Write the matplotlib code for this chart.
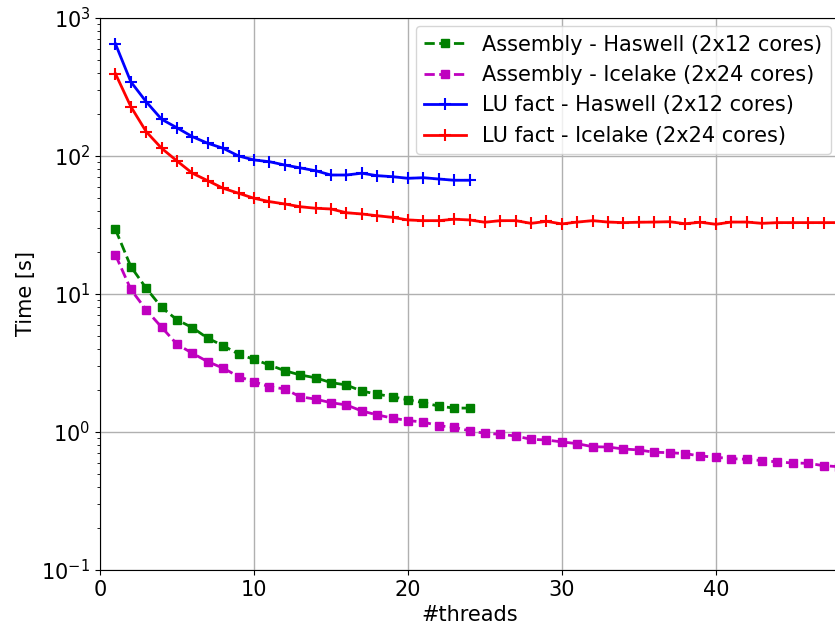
import matplotlib
matplotlib.use("Agg")
import matplotlib.pyplot as plt
import numpy as np

# thread counts for the two machines
threads_haswell = np.arange(1, 25)
threads_icelake = np.arange(1, 49)

# assembly time [s]
asm_haswell = [29.4, 15.8, 11.0, 8.0, 6.5, 5.7, 4.78, 4.22, 3.67, 3.36,
               3.06, 2.78, 2.59, 2.47, 2.28, 2.19, 1.98, 1.88, 1.80, 1.71,
               1.63, 1.54, 1.49, 1.49]
asm_icelake = [19.2, 10.8, 7.66, 5.74, 4.32, 3.72, 3.23, 2.90, 2.52, 2.31,
               2.13, 2.05, 1.80, 1.73, 1.63, 1.57, 1.42, 1.33, 1.26, 1.21,
               1.18, 1.11, 1.08, 1.02, 0.979, 0.962, 0.935, 0.885, 0.875, 0.847,
               0.823, 0.782, 0.778, 0.753, 0.741, 0.713, 0.708, 0.697, 0.670, 0.656,
               0.641, 0.634, 0.620, 0.607, 0.596, 0.593, 0.570, 0.56]

# LU factorisation time [s]
lu_haswell = [650, 345, 247, 184.5, 160, 138, 123.6, 113.7, 100, 93.6,
              90.9, 86, 82, 78.2, 72.8, 72.8, 75, 72, 70.8, 68.9,
              69.6, 68.1, 66.7, 66.7]
lu_icelake = [395, 228, 150, 113.7, 92, 75, 66.2, 58.3, 53.7, 49.4,
              46.7, 44.9, 42.9, 41.8, 41.3, 38.8, 38.0, 36.9, 35.9, 34.4,
              34.0, 34.0, 34.8, 34.4, 33.1, 34.0, 34.0, 32.5, 33.6, 32.2,
              33.2, 34.0, 33.2, 32.9, 33.1, 33.2, 33.4, 32.3, 33.1, 32.0,
              33.2, 33.2, 32.5, 32.9, 32.9, 32.9, 32.9, 32.9]

plt.rcParams['font.size'] = 15

fig = plt.figure(figsize=(8.35, 6.31), dpi=100)
ax = fig.add_axes([0.1198, 0.0967, 0.885, 0.8748])

ax.semilogy(threads_haswell, asm_haswell, 'g--s', lw=2, ms=6,
            label='Assembly - Haswell (2x12 cores)')
ax.semilogy(threads_icelake, asm_icelake, 'm--s', lw=2, ms=6,
            label='Assembly - Icelake (2x24 cores)')
ax.semilogy(threads_haswell, lu_haswell, 'b-+', lw=2, ms=9, mew=1.5,
            label='LU fact - Haswell (2x12 cores)')
ax.semilogy(threads_icelake, lu_icelake, 'r-+', lw=2, ms=9, mew=1.5,
            label='LU fact - Icelake (2x24 cores)')

ax.set_xlim(0, 48)
ax.set_ylim(0.1, 1000)
ax.set_xticks([0, 10, 20, 30, 40])
ax.grid(True, which='major', color='#b0b0b0', lw=1)
ax.set_xlabel('#threads')
ax.set_ylabel('Time [s]')
ax.legend(loc='upper right', borderaxespad=0.4)

fig.savefig('out.png', dpi=100)
